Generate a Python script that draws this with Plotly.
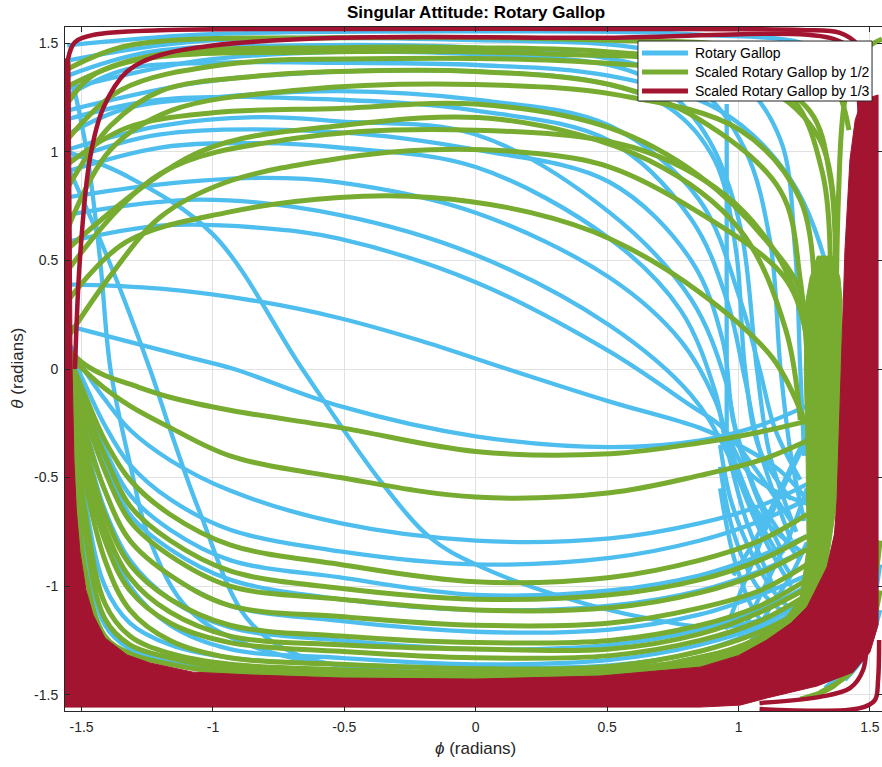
import plotly.graph_objects as go

BLUE = "#4DBEEE"
GREEN = "#77AC30"
RED = "#A2142F"
INK = "#262626"
FONT = "Liberation Sans, Arial, Helvetica, sans-serif"

# ---------------------------------------------------------------------------
# Trajectory knots, (phi, theta) in radians
# ---------------------------------------------------------------------------

# Rotary gallop: arcs from the left edge sweeping over the top into the right mesh
blue_upper_arcs = [
    [(-1.555, 0.20), (-1.08, 0.05), (-0.92, 0.0), (-0.52, -0.17), (0.0, -0.31), (0.51, -0.36), (0.85, -0.33), (1.08, -0.26), (1.26, -0.17)],
    [(-1.555, 0.39), (-1.20, 0.37), (-0.82, 0.31), (-0.52, 0.235), (-0.21, 0.13), (0.12, 0.0), (0.51, -0.15), (0.85, -0.27), (1.0, -0.35), (1.16, -0.47), (1.26, -0.6)],
    [(-1.555, 0.585), (-1.20, 0.66), (-0.82, 0.65), (-0.52, 0.60), (0.0, 0.40), (0.51, 0.08), (0.82, -0.17), (0.93, -0.26), (1.04, -0.42), (1.20, -0.70)],
    [(-1.555, 0.71), (-1.05, 0.78), (-0.52, 0.71), (0.0, 0.525), (0.51, 0.20), (0.82, -0.12), (0.95, -0.37), (1.08, -0.74), (1.2, -1.0)],
    [(-1.555, 0.79), (-1.20, 0.85), (-0.82, 0.88), (-0.52, 0.86), (0.0, 0.72), (0.51, 0.42), (0.78, 0.13), (0.91, -0.14), (0.97, -0.37), (1.08, -0.70), (1.2, -0.95)],
    [(-1.555, 0.91), (-1.20, 1.02), (-0.82, 1.04), (-0.52, 1.02), (0.0, 0.93), (0.51, 0.60), (0.78, 0.27), (0.91, -0.10), (0.95, -0.33), (1.03, -0.70), (1.14, -1.02)],
    [(-1.555, 0.96), (-1.20, 1.08), (-0.52, 1.09), (0.0, 1.01), (0.51, 0.86), (0.82, 0.50), (0.94, 0.13), (0.98, -0.24), (1.06, -0.56), (1.17, -0.85)],
    [(-1.555, 1.01), (-1.20, 1.12), (-0.82, 1.16), (-0.52, 1.14), (0.0, 1.08), (0.51, 0.72), (0.82, 0.32), (0.95, -0.05), (0.99, -0.28), (1.08, -0.60), (1.235, -0.88)],
    [(-1.555, 1.08), (-1.33, 1.20), (-1.0, 1.25), (-0.52, 1.28), (0.0, 1.24), (0.51, 1.12), (0.85, 0.78), (1.006, 0.32), (1.08, 0.0), (1.14, -0.28), (1.235, -0.51)],
    [(-1.555, 1.15), (-1.20, 1.24), (-0.52, 1.24), (0.0, 1.19), (0.51, 1.05), (0.82, 0.69), (0.955, 0.32), (1.025, -0.05), (1.08, -0.37), (1.2, -0.79)],
    [(-1.555, 1.19), (-1.05, 1.32), (-0.52, 1.37), (0.0, 1.37), (0.47, 1.32), (0.74, 1.20), (0.91, 0.96), (0.99, 0.55), (1.025, 0.0), (1.08, -0.37), (1.2, -0.6)],
    [(-1.555, 1.26), (-1.33, 1.38), (-1.0, 1.41), (-0.52, 1.41), (0.0, 1.40), (0.51, 1.35), (0.93, 1.19), (1.20, 0.87), (1.35, 0.41), (1.40, 0.0)],
    [(-1.555, 1.29), (-1.05, 1.42), (-0.52, 1.46), (0.0, 1.45), (0.54, 1.39), (0.73, 1.28), (0.89, 1.05), (1.006, 0.66), (1.07, 0.0), (1.12, -0.4), (1.22, -0.75)],
    [(-1.555, 1.35), (-1.24, 1.46), (-0.67, 1.49), (0.0, 1.48), (0.55, 1.42), (0.85, 1.29), (1.025, 1.01), (1.12, 0.59), (1.16, 0.0), (1.2, -0.4), (1.25, -0.7)],
    [(-1.555, 1.42), (-1.05, 1.51), (0.0, 1.515), (0.66, 1.47), (1.0, 1.33), (1.16, 1.055), (1.215, 0.55), (1.235, 0.0), (1.25, -0.4)],
    [(-1.555, 1.49), (-1.05, 1.54), (0.0, 1.555), (0.85, 1.54), (1.31, 1.47), (1.46, 1.24), (1.50, 0.78)],
]

# Rotary gallop: steep arcs dropping from the upper left toward the bottom
blue_steep_arcs = [
    [(-1.555, 1.00), (-1.33, 0.89), (-1.00, 0.62), (-0.66, 0.0), (-0.36, -0.52), (-0.17, -0.78), (0.0, -0.90), (0.33, -1.05), (0.66, -1.15), (0.93, -1.19), (1.16, -1.13)],
    [(-1.555, 0.94), (-1.40, 0.51), (-1.24, 0.0), (-1.16, -0.29), (-1.05, -0.66), (-0.87, -1.15), (-0.67, -1.32), (-0.29, -1.39), (0.0, -1.40), (0.47, -1.39), (0.93, -1.32), (1.23, -1.11)],
    [(-1.53, 1.30), (-1.48, 1.00), (-1.43, 0.51), (-1.39, 0.0), (-1.315, -0.44), (-1.24, -0.79), (-1.09, -1.11), (-0.82, -1.29), (-0.29, -1.39), (0.3, -1.40)],
]

# Rotary gallop: short crossing arcs near phi ~ 1
blue_mesh_arcs = [
    [(0.93, -0.35), (0.97, -0.6), (1.05, -0.85), (1.15, -1.05), (1.25, -1.15)],
    [(0.93, -0.45), (0.98, -0.75), (1.07, -1.0), (1.2, -1.15)],
    [(0.94, -0.25), (1.0, -0.5), (1.1, -0.7), (1.25, -0.85)],
    [(0.95, -1.2), (1.05, -0.9), (1.15, -0.6), (1.25, -0.35)],
    [(1.0, -1.25), (1.1, -1.0), (1.2, -0.75), (1.26, -0.55)],
    [(0.96, -0.3), (1.02, -0.45), (1.12, -0.55), (1.26, -0.62)],
    [(0.98, -0.95), (1.08, -0.75), (1.18, -0.5), (1.26, -0.3)],
    [(0.93, -0.55), (0.99, -0.9), (1.08, -1.15), (1.2, -1.25)],
    [(1.05, -1.25), (1.12, -1.1), (1.2, -0.95), (1.26, -0.8)],
    [(0.955, 1.22), (0.955, -0.29)],
]

blue_corner_arcs = [
    [(1.539, -0.90), (1.493, -1.18), (1.424, -1.35), (1.329, -1.47)],
    [(1.539, -1.11), (1.481, -1.317), (1.405, -1.432)],
]

# U-shaped lower arcs share one set of phi knots
lower_phi = [-1.544, -1.487, -1.411, -1.316, -1.163, -0.935, -0.516, 0.0, 0.511, 0.854, 1.082, 1.261]

blue_lower_theta = [
    [0.11, -0.01, -0.14, -0.28, -0.42, -0.56, -0.71, -0.79, -0.78, -0.71, -0.63, -0.53],
    [0.09, -0.07, -0.26, -0.44, -0.60, -0.74, -0.84, -0.90, -0.87, -0.79, -0.70, -0.60],
    [0.06, -0.14, -0.37, -0.58, -0.74, -0.88, -0.96, -1.04, -1.02, -0.95, -0.86, -0.77],
    [0.04, -0.19, -0.44, -0.67, -0.83, -0.97, -1.06, -1.11, -1.09, -1.02, -0.93, -0.83],
    [0.02, -0.26, -0.56, -0.79, -0.95, -1.09, -1.16, -1.21, -1.20, -1.13, -1.04, -0.95],
    [-0.01, -0.33, -0.65, -0.88, -1.06, -1.19, -1.25, -1.29, -1.27, -1.20, -1.11, -1.00],
    [-0.03, -0.40, -0.74, -1.00, -1.18, -1.29, -1.33, -1.36, -1.34, -1.27, -1.18, -1.06],
    [-0.04, -0.60, -1.00, -1.17, -1.27, -1.33, -1.36, -1.375, -1.365, -1.30, -1.20, -1.09],
    [-0.05, -0.80, -1.18, -1.29, -1.35, -1.39, -1.41, -1.415, -1.405, -1.35, -1.26, -1.13],
]

green_lower_theta = [
    [0.08, 0.02, -0.03, -0.07, -0.13, -0.19, -0.27, -0.38, -0.39, -0.34, -0.29, -0.24],
    [0.06, -0.01, -0.09, -0.17, -0.27, -0.40, -0.50, -0.59, -0.57, -0.49, -0.42, -0.33],
    [0.05, -0.12, -0.33, -0.51, -0.67, -0.81, -0.90, -0.98, -0.96, -0.88, -0.79, -0.67],
    [0.04, -0.17, -0.40, -0.63, -0.79, -0.93, -1.01, -1.06, -1.04, -0.97, -0.88, -0.77],
    [0.03, -0.21, -0.47, -0.70, -0.86, -1.00, -1.06, -1.11, -1.10, -1.03, -0.94, -0.83],
    [0.02, -0.28, -0.56, -0.79, -0.95, -1.09, -1.14, -1.18, -1.17, -1.10, -1.02, -0.90],
    [0.00, -0.35, -0.67, -0.90, -1.06, -1.18, -1.23, -1.26, -1.25, -1.18, -1.09, -0.97],
    [-0.01, -0.40, -0.73, -0.96, -1.12, -1.23, -1.27, -1.29, -1.29, -1.22, -1.12, -1.01],
    [-0.01, -0.44, -0.79, -1.02, -1.17, -1.26, -1.30, -1.33, -1.32, -1.25, -1.16, -1.04],
    [-0.03, -0.51, -0.88, -1.11, -1.25, -1.33, -1.36, -1.38, -1.37, -1.30, -1.21, -1.10],
    [-0.05, -0.65, -1.08, -1.23, -1.31, -1.36, -1.385, -1.40, -1.39, -1.33, -1.24, -1.12],
    [-0.05, -0.75, -1.15, -1.27, -1.33, -1.38, -1.40, -1.41, -1.40, -1.35, -1.26, -1.14],
    [-0.06, -0.92, -1.23, -1.31, -1.36, -1.40, -1.415, -1.42, -1.41, -1.36, -1.27, -1.15],
]

# Scaled by 1/2: arcs over the top that fall into the band near phi ~ 1.3
green_upper_arcs = [
    [(-1.555, 0.14), (-1.39, 0.43), (-1.20, 0.70), (-0.95, 0.86), (-0.52, 0.97), (-0.17, 1.01), (0.21, 0.995), (0.51, 0.93), (0.85, 0.72), (1.17, 0.43), (1.25, 0.20), (1.27, -0.14)],
    [(-1.555, 0.31), (-1.33, 0.585), (-0.95, 0.72), (-0.52, 0.79), (-0.17, 0.79), (0.21, 0.72), (0.51, 0.60), (0.85, 0.355), (1.13, 0.05), (1.25, -0.235)],
    [(-1.555, 0.45), (-1.2, 0.9), (-0.7, 1.06), (0.0, 1.10), (0.6, 1.02), (0.95, 0.80), (1.15, 0.52), (1.26, 0.2)],
    [(-1.555, 0.55), (-1.05, 1.0), (-0.52, 1.12), (0.09, 1.15), (0.66, 0.96), (1.006, 0.64), (1.18, 0.18), (1.235, -0.235)],
    [(-1.555, 0.64), (-1.39, 1.01), (-1.16, 1.19), (-0.67, 1.285), (0.0, 1.31), (0.55, 1.26), (1.006, 1.10), (1.235, 0.78), (1.29, 0.32)],
    [(-1.555, 0.83), (-1.39, 1.12), (-1.20, 1.28), (-0.82, 1.35), (-0.52, 1.37), (0.0, 1.37), (0.51, 1.31), (0.85, 1.15), (1.16, 0.82), (1.235, 0.41), (1.265, -0.05)],
    [(-1.555, 0.94), (-1.33, 1.11), (-1.0, 1.18), (-0.52, 1.20), (0.0, 1.22), (0.51, 1.11), (0.85, 0.89), (1.11, 0.585), (1.235, 0.355), (1.265, -0.05)],
    [(-1.555, 1.055), (-1.35, 1.285), (-0.97, 1.40), (-0.29, 1.43), (0.47, 1.41), (1.08, 1.31), (1.31, 1.055), (1.37, 0.59)],
    [(-1.555, 1.22), (-1.46, 1.35), (-1.20, 1.45), (-0.52, 1.48), (0.0, 1.48), (0.51, 1.46), (1.006, 1.38), (1.27, 1.19), (1.35, 0.87), (1.37, 0.32)],
    [(-1.555, 1.30), (-1.3, 1.42), (-0.6, 1.46), (0.3, 1.45), (0.9, 1.40), (1.2, 1.25), (1.32, 0.9), (1.35, 0.45)],
    [(-1.555, 1.38), (-1.32, 1.49), (-0.52, 1.525), (0.47, 1.515), (1.08, 1.47), (1.35, 1.33), (1.42, 1.10)],
    [(1.37, 0.0), (1.38, 0.78), (1.405, 1.24), (1.46, 1.45), (1.546, 1.52)],
]

green_corner_arcs = [
    [(1.539, -0.79), (1.500, -1.11), (1.443, -1.32), (1.367, -1.455), (1.235, -1.52)],
    [(1.539, -1.02), (1.493, -1.25), (1.424, -1.40), (1.31, -1.49)],
]

# Dense overlap of the 1/2-scaled passes along phi ~ 1.3
green_band_outline = [
    (1.30, 0.52), (1.272, 0.42), (1.257, 0.318), (1.250, -0.005), (1.257, -0.373),
    (1.261, -0.824), (1.235, -1.055), (1.158, -1.179), (0.979, -1.285), (0.728, -1.350),
    (0.40, -1.395), (0.854, -1.373), (1.108, -1.248), (1.261, -1.096), (1.337, -0.912),
    (1.375, -0.603), (1.390, -0.005), (1.394, 0.318), (1.386, 0.42), (1.36, 0.52),
]

# Dense overlap of the 1/3-scaled passes hugging the left, bottom and right edges
red_region_outline = [
    (-1.567, 1.423), (-1.544, 1.414), (-1.540, 0.778), (-1.536, -0.005), (-1.529, -0.419),
    (-1.520, -0.649), (-1.506, -0.843), (-1.483, -1.018), (-1.456, -1.133), (-1.411, -1.239),
    (-1.327, -1.317), (-1.239, -1.354), (-1.076, -1.396), (-0.859, -1.409), (-0.516, -1.423),
    (0.001, -1.428), (0.473, -1.414), (0.854, -1.373), (1.00, -1.32), (1.108, -1.248),
    (1.20, -1.17), (1.261, -1.096), (1.337, -0.912), (1.365, -0.76), (1.375, -0.603),
    (1.390, -0.005), (1.405, 0.548), (1.424, 0.963), (1.444, 1.147), (1.470, 1.239),
    (1.531, 1.262), (1.531, -1.179), (1.500, -1.304), (1.436, -1.396), (1.299, -1.460),
    (1.108, -1.515), (1.006, -1.548), (0.854, -1.557), (-1.563, -1.557),
]

red_arcs = [
    [(-1.565, 1.43), (-1.565, -0.5)],
    [(-1.563, 1.12), (-1.551, 1.43), (-1.525, 1.505), (-1.456, 1.538), (-1.20, 1.56), (-0.52, 1.566), (0.47, 1.566), (1.235, 1.561), (1.386, 1.548), (1.455, 1.49), (1.493, 1.33), (1.508, 1.01)],
    [(-1.525, 0.0), (-1.506, 0.51), (-1.468, 0.97), (-1.418, 1.20), (-1.327, 1.37), (-1.20, 1.446), (-1.0, 1.49), (-0.52, 1.525), (0.47, 1.525), (1.348, 1.525), (1.424, 1.47), (1.455, 1.285), (1.462, 1.055)],
    [(1.08, -1.538), (1.31, -1.51), (1.424, -1.47), (1.474, -1.386), (1.489, -1.25), (1.50, -1.06)],
    [(1.08, -1.566), (1.462, -1.562), (1.519, -1.525), (1.531, -1.432), (1.535, -1.248)],
]

legend_names = ["Rotary Gallop", "Scaled Rotary Gallop by 1/2", "Scaled Rotary Gallop by 1/3"]
tick_vals = [-1.5, -1.0, -0.5, 0.0, 0.5, 1.0, 1.5]
tick_text = ["-1.5", "-1", "-0.5", "0", "0.5", "1", "1.5"]


def chain(curves):
    xs, ys = [], []
    for c in curves:
        xs.extend(p[0] for p in c)
        ys.extend(p[1] for p in c)
        xs.append(None)
        ys.append(None)
    return xs, ys


fig = go.Figure()


def add_lines(curves, color, width):
    x, y = chain(curves)
    fig.add_trace(go.Scatter(
        x=x, y=y, mode="lines", hoverinfo="skip", showlegend=False,
        line=dict(color=color, width=width, shape="spline", smoothing=1.0),
    ))


def add_region(outline, color):
    x = [p[0] for p in outline] + [outline[0][0]]
    y = [p[1] for p in outline] + [outline[0][1]]
    fig.add_trace(go.Scatter(
        x=x, y=y, mode="lines", fill="toself", fillcolor=color, hoverinfo="skip",
        showlegend=False, line=dict(color=color, width=1),
    ))


lower_blue = [list(zip(lower_phi, row)) for row in blue_lower_theta]
lower_green = [list(zip(lower_phi, row)) for row in green_lower_theta]

add_lines(blue_upper_arcs + blue_steep_arcs + lower_blue + blue_mesh_arcs + blue_corner_arcs, BLUE, 4.3)
add_region(green_band_outline, GREEN)
add_lines(lower_green + green_upper_arcs + green_corner_arcs, GREEN, 5)
add_region(red_region_outline, RED)
add_lines(red_arcs, RED, 4.5)

axis_common = dict(
    tickvals=tick_vals, ticktext=tick_text, ticks="inside", ticklen=5, tickwidth=1,
    tickcolor=INK, showline=True, linecolor=INK, linewidth=1, mirror="ticks",
    showgrid=True, gridcolor="#e1e1e1", gridwidth=1, zeroline=False,
    tickfont=dict(family=FONT, size=14, color=INK),
)

fig.update_layout(
    width=882, height=767,
    margin=dict(l=65, r=0, t=27, b=56),
    paper_bgcolor="white", plot_bgcolor="white",
    showlegend=False,
    xaxis=dict(range=[-1.563, 1.546], ticklabelstandoff=3, **axis_common),
    yaxis=dict(range=[-1.575, 1.575], ticklabelstandoff=3, **axis_common),
)

# title and axis labels
fig.add_annotation(x=0, y=1.0, xref="x", yref="paper", yanchor="bottom", yshift=3,
                   showarrow=False, text="<b>Singular Attitude: Rotary Gallop</b>",
                   font=dict(family=FONT, size=17, color="black"))
fig.add_annotation(x=0, y=-0.072, xref="x", yref="paper", showarrow=False,
                   text="<i>ϕ</i> (radians)", font=dict(family=FONT, size=17, color=INK))
fig.add_annotation(x=-0.072, y=0.5015, xref="paper", yref="paper", showarrow=False,
                   textangle=-90, text="<i>θ</i> (radians)",
                   font=dict(family=FONT, size=17, color=INK))

# legend box
legend_colors = [BLUE, GREEN, RED]
fig.add_shape(type="rect", xref="paper", yref="paper", x0=0.7013, x1=0.9878, y0=0.8918, y1=0.9795,
              fillcolor="white", line=dict(color=INK, width=1), layer="above")
row_y = [0.9620, 0.9342, 0.9064]
for name, color, yy in zip(legend_names, legend_colors, row_y):
    fig.add_shape(type="line", xref="paper", yref="paper", x0=0.7062, x1=0.7625, y0=yy, y1=yy,
                  line=dict(color=color, width=5), layer="above")
    fig.add_annotation(x=0.7687, y=yy, xref="paper", yref="paper", xanchor="left",
                       yanchor="middle", showarrow=False, text=name,
                       font=dict(family=FONT, size=14, color="black"))

fig.write_html("out.html", config={"displayModeBar": False})
